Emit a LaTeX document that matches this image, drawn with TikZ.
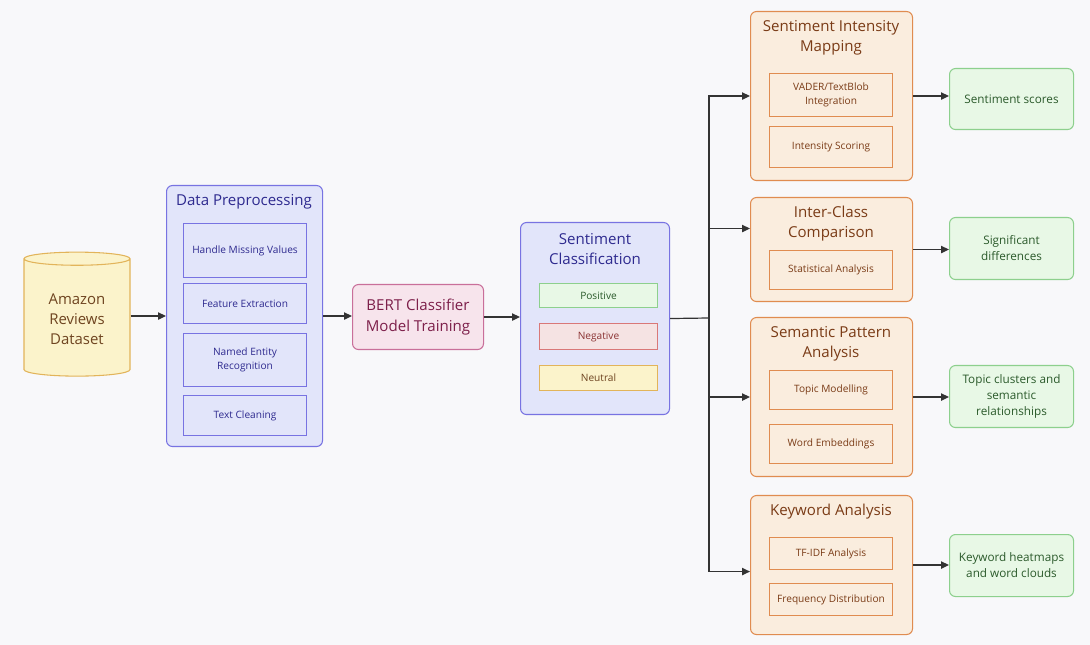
\documentclass[tikz,border=0pt]{standalone}
\usepackage{fontspec}
\setmainfont{Open Sans}
\usetikzlibrary{positioning}
\usetikzlibrary{arrows.meta}
\usetikzlibrary{shapes.geometric}
\definecolor{bgcol}{HTML}{F8F8FA}
\definecolor{bluefill}{HTML}{E2E5FA}
\definecolor{blueline}{HTML}{7873E2}
\definecolor{bluetext}{HTML}{2E2A8F}
\definecolor{orfill}{HTML}{FAEDDE}
\definecolor{orline}{HTML}{E08C50}
\definecolor{ortext}{HTML}{7A3B16}
\definecolor{grfill}{HTML}{E8F8E6}
\definecolor{grline}{HTML}{8DD08D}
\definecolor{grtext}{HTML}{2B5A2B}
\definecolor{yefill}{HTML}{FBF3CB}
\definecolor{yeline}{HTML}{E2B45A}
\definecolor{yetext}{HTML}{6E4420}
\definecolor{pkfill}{HTML}{F7E4EC}
\definecolor{pkline}{HTML}{C96F9A}
\definecolor{pktext}{HTML}{7D1F4A}
\definecolor{rdfill}{HTML}{F5E3E3}
\definecolor{rdline}{HTML}{D97878}
\definecolor{rdtext}{HTML}{8A3333}
\definecolor{edgecol}{HTML}{333333}
\tikzset{>={Triangle[length=6pt,width=5.5pt]}}
\tikzset{grp/.style={draw,rounded corners=4.5pt,line width=0.8pt,anchor=north west,inner sep=0pt}}
\tikzset{sub/.style={draw,line width=0.8pt,anchor=north west,align=center,inner sep=1pt,font=\fontsize{7.6}{10.5}\selectfont}}
\tikzset{ttl/.style={align=center,inner sep=0pt,font=\fontsize{11.3}{15}\selectfont}}
\tikzset{res/.style={grp,align=center,fill=grfill,draw=grline,text=grtext,minimum width=93pt,font=\fontsize{8.8}{12}\selectfont}}
\tikzset{blu/.style={fill=bluefill,draw=blueline,text=bluetext}}
\tikzset{ora/.style={fill=orfill,draw=orline,text=ortext}}
\tikzset{ed/.style={draw=edgecol,line width=0.9pt}}

\begin{document}
\begin{tikzpicture}[x=0.75pt,y=-0.75pt]
\fill[bgcol] (0,0) rectangle (1090,645);
\useasboundingbox (0,0) rectangle (1090,645);

\node (db) [cylinder,shape border rotate=90,draw=yeline,fill=yefill,text=yetext,line width=0.8pt,
  minimum height=93pt,minimum width=79.5pt,aspect=0.2,align=center,
  font=\fontsize{11.2}{15}\selectfont] at (77,319) {Amazon\\Reviews\\Dataset};

\node (dp) [grp,blu,minimum width=117pt,minimum height=195.75pt] at (166,185) {};
\node (dpt) [ttl,text=bluetext] at (244,202) {Data Preprocessing};
\node (hmv) [sub,blu,minimum width=92.25pt,minimum height=40.5pt] at (183,223) {Handle Missing Values};
\node (fe) [sub,blu,minimum width=92.25pt,minimum height=30pt] at (183,283) {Feature Extraction};
\node (ner) [sub,blu,minimum width=92.25pt,minimum height=39.75pt] at (183,333) {Named Entity\\Recognition};
\node (tc) [sub,blu,minimum width=92.25pt,minimum height=30pt] at (183,395) {Text Cleaning};

\node (bert) [grp,align=center,fill=pkfill,draw=pkline,text=pktext,minimum width=98.25pt,minimum height=48.75pt,
  font=\fontsize{11.3}{15.5}\selectfont] at (352,284) {BERT Classifier\\Model Training};

\node (sc) [grp,blu,minimum width=111.75pt,minimum height=144pt] at (520,222) {};
\node (sct) [ttl,text=bluetext] at (595,249) {Sentiment\\Classification};
\node (pos) [sub,fill=grfill,draw=grline,text=grtext,minimum width=88.5pt,minimum height=18pt] at (539,283) {Positive};
\node (neg) [sub,fill=rdfill,draw=rdline,text=rdtext,minimum width=88.5pt,minimum height=19.5pt] at (539,323) {Negative};
\node (neu) [sub,fill=yefill,draw=yeline,text=yetext,minimum width=88.5pt,minimum height=18.75pt] at (539,365) {Neutral};

\node (sim) [grp,ora,minimum width=121.5pt,minimum height=126.75pt] at (750,11) {};
\node (simt) [ttl,text=ortext] at (831,38) {Sentiment Intensity\\Mapping};
\node (vader) [sub,ora,minimum width=92.25pt,minimum height=32.25pt] at (769,73) {VADER/TextBlob\\Integration};
\node (isc) [sub,ora,minimum width=92.25pt,minimum height=30.75pt] at (769,126) {Intensity Scoring};

\node (icc) [grp,ora,minimum width=121.5pt,minimum height=78pt] at (750,197) {};
\node (icct) [ttl,text=ortext] at (831,224) {Inter-Class\\Comparison};
\node (stat) [sub,ora,minimum width=92.25pt,minimum height=29.25pt] at (769,250) {Statistical Analysis};

\node (spa) [grp,ora,minimum width=121.5pt,minimum height=119.25pt] at (750,317) {};
\node (spat) [ttl,text=ortext] at (831,344) {Semantic Pattern\\Analysis};
\node (topic) [sub,ora,minimum width=92.25pt,minimum height=29.25pt] at (769,370) {Topic Modelling};
\node (wemb) [sub,ora,minimum width=92.25pt,minimum height=29.25pt] at (769,424) {Word Embeddings};

\node (ka) [grp,ora,minimum width=121.5pt,minimum height=104.25pt] at (750,495) {};
\node (kat) [ttl,text=ortext] at (831,512) {Keyword Analysis};
\node (tfidf) [sub,ora,minimum width=92.25pt,minimum height=24pt] at (769,537) {TF-IDF Analysis};
\node (freq) [sub,ora,minimum width=92.25pt,minimum height=24pt] at (769,583) {Frequency Distribution};

\node (r1) [res,minimum height=45.75pt] at (949,68) {Sentiment scores};
\node (r2) [res,minimum height=46.5pt] at (949,217) {Significant\\differences};
\node (r3) [res,minimum height=46.5pt] at (949,365) {Topic clusters and\\semantic\\relationships};
\node (r4) [res,minimum height=46.5pt] at (949,534) {Keyword heatmaps\\and word clouds};

\coordinate (trunk) at (709,318);

\draw[ed,->] (dp.west -| db.east) -- (dp.west);
\draw[ed,->] (dp.east) -- (dp.east -| bert.west);
\draw[ed,->] (bert.east) -- (bert.east -| sc.west);
\draw[ed] (sc.east) -- (trunk);
\draw[ed,->] (trunk) |- (sim.west);
\draw[ed,->] (trunk) |- ([yshift=15.75pt]icc.west);
\draw[ed,->] (trunk) |- (spa.west);
\draw[ed,->] (trunk) |- ([yshift=-4.9pt]ka.west);

\draw[ed,->] (sim.east) -- (sim.east -| r1.west);
\draw[ed,->] (icc.east) -- (icc.east -| r2.west);
\draw[ed,->] (spa.east) -- (spa.east -| r3.west);
\draw[ed,->] (ka.east) -- (ka.east -| r4.west);
\end{tikzpicture}
\end{document}
